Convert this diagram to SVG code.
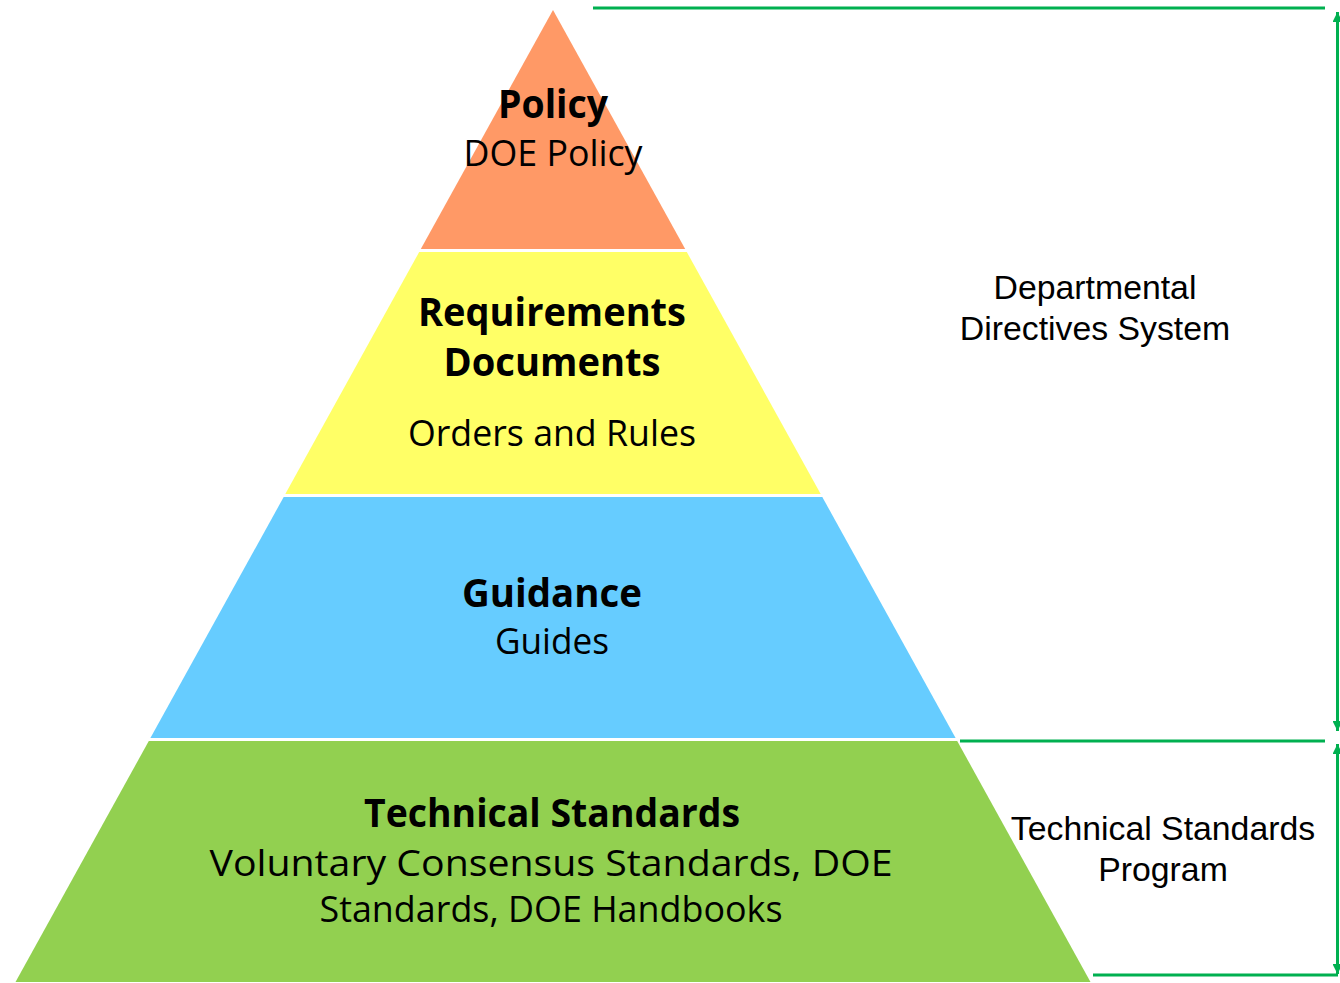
<svg xmlns="http://www.w3.org/2000/svg" width="1340" height="983" viewBox="0 0 1340 983">
  <style>
    .t { font-family: "Open Sans", "Noto Sans", "Liberation Sans", sans-serif; fill: #000; text-anchor: middle; }
    .b { font-weight: bold; font-size: 39px; }
    .r { font-weight: normal; font-size: 36px; }
    .a { font-family: "Liberation Sans", Arial, sans-serif; font-size: 33.8px; fill: #000; text-anchor: middle; }
    .conn { stroke: #00B050; stroke-width: 3; fill: none; }
  </style>
  <defs>
    <marker id="ah" viewBox="0 0 10 10" refX="10" refY="5" markerWidth="11" markerHeight="10" markerUnits="userSpaceOnUse" orient="auto-start-reverse">
      <path d="M0 0 L10 5 L0 10 Z" fill="#00B050"/>
    </marker>
  </defs>
  <rect width="1340" height="983" fill="#FFFFFF"/>

  <g id="connectors">
    <path class="conn" d="M593 8 H1325"/>
    <path class="conn" d="M960 741 H1325"/>
    <path class="conn" d="M1093 975 H1338"/>
    <path class="conn" d="M1337.5 12 V731" marker-start="url(#ah)" marker-end="url(#ah)"/>
    <path class="conn" d="M1337.5 744 V974" marker-start="url(#ah)" marker-end="url(#ah)"/>
  </g>

  <g id="policy">
    <polygon points="553,10 685.2,249 420.8,249" fill="#FF9966"/>
    <text class="t b" x="553" y="118" textLength="110" lengthAdjust="spacingAndGlyphs">Policy</text>
    <text class="t r" x="553" y="166" textLength="179" lengthAdjust="spacingAndGlyphs">DOE Policy</text>
  </g>

  <g id="requirements">
    <polygon points="419.2,252 686.8,252 820.7,494 285.3,494" fill="#FFFF66"/>
    <text class="t b" x="552" y="326" textLength="268" lengthAdjust="spacingAndGlyphs">Requirements</text>
    <text class="t b" x="552" y="376" textLength="217" lengthAdjust="spacingAndGlyphs">Documents</text>
    <text class="t r" x="552" y="446" textLength="288" lengthAdjust="spacingAndGlyphs">Orders and Rules</text>
  </g>

  <g id="guidance">
    <polygon points="283.7,497 822.3,497 955.6,738 150.4,738" fill="#66CCFF"/>
    <text class="t b" x="552" y="607" textLength="180" lengthAdjust="spacingAndGlyphs">Guidance</text>
    <text class="t r" x="552" y="654" textLength="114" lengthAdjust="spacingAndGlyphs">Guides</text>
  </g>

  <g id="technical">
    <polygon points="148.8,741 957.2,741 1090.5,982 15.5,982" fill="#92D050"/>
    <text class="t b" x="552" y="827" textLength="376" lengthAdjust="spacingAndGlyphs">Technical Standards</text>
    <text class="t r" x="551" y="876" textLength="683" lengthAdjust="spacingAndGlyphs">Voluntary Consensus Standards, DOE</text>
    <text class="t r" x="551" y="922" textLength="463" lengthAdjust="spacingAndGlyphs">Standards, DOE Handbooks</text>
  </g>

  <g id="directives-label">
    <text class="a" x="1095" y="299">Departmental</text>
    <text class="a" x="1095" y="340">Directives System</text>
  </g>

  <g id="tsp-label">
    <text class="a" x="1163" y="840">Technical Standards</text>
    <text class="a" x="1163" y="881">Program</text>
  </g>
</svg>
